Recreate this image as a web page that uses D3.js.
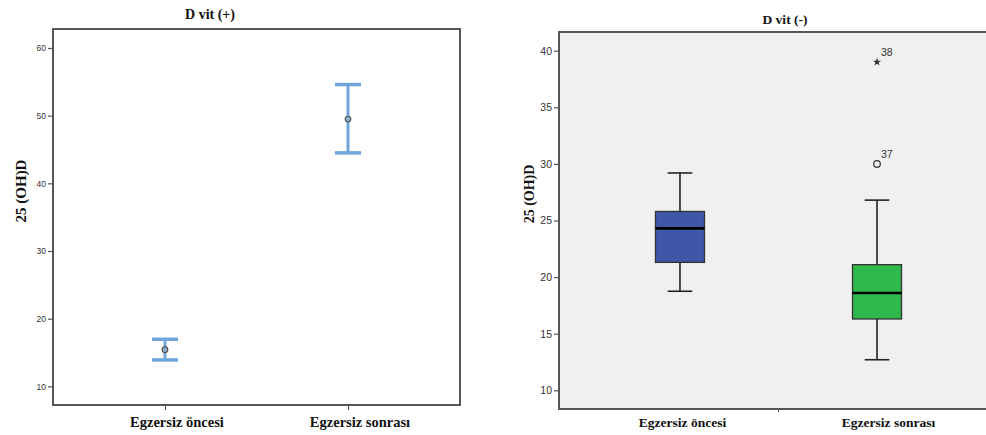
<!DOCTYPE html>
<html>
<head>
<meta charset="utf-8">
<script src="https://cdn.jsdelivr.net/npm/d3@7"></script>
<style>
  html, body { margin: 0; padding: 0; background: #ffffff; }
  svg { display: block; }
</style>
</head>
<body>
<svg id="chart" width="986" height="435"></svg>
<script>
// ---------- DATA ----------
const categories = ["Egzersiz öncesi", "Egzersiz sonrası"];

// Left panel: D vit (+) — mean with error bars
const plusTitle = "D vit (+)";
const plusMean = [15.4, 49.5];
const plusLow  = [13.9, 44.5];
const plusHigh = [16.95, 54.6];
const plusTicks = [10, 20, 30, 40, 50, 60];

// Right panel: D vit (-) — box plots
const minusTitle = "D vit (-)";
const whiskerLow  = [18.75, 12.7];
const q1          = [21.3, 16.3];
const median      = [24.3, 18.6];
const q3          = [25.8, 21.1];
const whiskerHigh = [29.2, 26.8];
const outlierCat   = [1, 1];
const outlierValue = [30.0, 39.0];
const outlierLabel = ["37", "38"];
const outlierType  = ["circle", "star"];
const minusTicks = [10, 15, 20, 25, 30, 35, 40];

const yLabel = "25 (OH)D";

// ---------- STYLE ----------
const serif = "'Liberation Serif', 'Times New Roman', serif";
const sans = "'Liberation Sans', Arial, sans-serif";
const boxColors = ["#3e57a9", "#2fb84b"];

const svg = d3.select("#chart");

// ================= LEFT PANEL =================
{
  const L = 53, R = 460, T = 29, B = 405;
  const x = d3.scalePoint().domain(categories).range([L, R]).padding(0.612);
  const y = d3.scaleLinear().domain([10, 60]).range([386.3, 48]);
  const g = svg.append("g");

  g.append("rect").attr("x", L).attr("y", T).attr("width", R - L).attr("height", B - T)
    .attr("fill", "#ffffff").attr("stroke", "#555").attr("stroke-width", 2);

  const yAxis = d3.axisLeft(y).tickValues(plusTicks).tickSize(5).tickPadding(2);
  const ya = g.append("g").attr("transform", `translate(${L},0)`).call(yAxis);
  ya.select(".domain").remove();
  ya.selectAll("line").attr("stroke", "#555").attr("stroke-width", 1.2);
  ya.selectAll("text").attr("font-family", sans).attr("font-size", 8.5).attr("fill", "#333");

  const xAxis = d3.axisBottom(x).tickSize(5).tickFormat("");
  const xa = g.append("g").attr("transform", `translate(0,${B})`).call(xAxis);
  xa.select(".domain").remove();
  xa.selectAll("line").attr("stroke", "#555").attr("stroke-width", 1.2);

  g.selectAll(".xl").data(categories).join("text")
    .attr("x", d => x(d) + 12).attr("y", 427).attr("text-anchor", "middle")
    .attr("font-family", serif).attr("font-weight", "bold").attr("font-size", 14.5)
    .attr("fill", "#111").text(d => d);

  g.append("text").attr("x", 210).attr("y", 19).attr("text-anchor", "middle")
    .attr("font-family", serif).attr("font-weight", "bold").attr("font-size", 14)
    .attr("fill", "#111").text(plusTitle);

  g.append("text").attr("transform", "translate(26,191) rotate(-90)")
    .attr("text-anchor", "middle")
    .attr("font-family", serif).attr("font-weight", "bold").attr("font-size", 15)
    .attr("fill", "#111").text(yLabel);

  const eb = g.selectAll(".eb").data(categories).join("g");
  const blue = "#6fa5d8";
  eb.append("line").attr("x1", d => x(d)).attr("x2", d => x(d))
    .attr("y1", (d, i) => y(plusHigh[i])).attr("y2", (d, i) => y(plusLow[i]))
    .attr("stroke", blue).attr("stroke-width", 3);
  eb.append("line").attr("x1", d => x(d) - 13).attr("x2", d => x(d) + 13)
    .attr("y1", (d, i) => y(plusHigh[i])).attr("y2", (d, i) => y(plusHigh[i]))
    .attr("stroke", blue).attr("stroke-width", 3.5);
  eb.append("line").attr("x1", d => x(d) - 13).attr("x2", d => x(d) + 13)
    .attr("y1", (d, i) => y(plusLow[i])).attr("y2", (d, i) => y(plusLow[i]))
    .attr("stroke", blue).attr("stroke-width", 3.5);
  eb.append("circle").attr("cx", d => x(d)).attr("cy", (d, i) => y(plusMean[i]))
    .attr("r", 2.8).attr("fill", "#8fb0cf").attr("stroke", "#555").attr("stroke-width", 1.2);
}

// ================= RIGHT PANEL =================
{
  const L = 559, R = 998, T = 32, B = 409;
  const x = d3.scalePoint().domain(categories).range([L, R]).padding(0.614);
  const y = d3.scaleLinear().domain([10, 40]).range([390.3, 50.7]);
  const g = svg.append("g");

  g.append("rect").attr("x", L).attr("y", T).attr("width", R - L).attr("height", B - T)
    .attr("fill", "#f0f0f0");
  g.append("path").attr("d", `M${R},${T}H${L}V${B}H${R}`)
    .attr("fill", "none").attr("stroke", "#555").attr("stroke-width", 2);

  const yAxis = d3.axisLeft(y).tickValues(minusTicks).tickSize(5).tickPadding(2);
  const ya = g.append("g").attr("transform", `translate(${L},0)`).call(yAxis);
  ya.select(".domain").remove();
  ya.selectAll("line").attr("stroke", "#555").attr("stroke-width", 1.2);
  ya.selectAll("text").attr("font-family", sans).attr("font-size", 10.5).attr("fill", "#333");

  // small divider tick between categories
  const mid = (x(categories[0]) + x(categories[1])) / 2;
  g.append("line").attr("x1", mid).attr("x2", mid).attr("y1", B).attr("y2", B + 3)
    .attr("stroke", "#555").attr("stroke-width", 1);

  const labelShift = [2.5, 11.5];
  g.selectAll(".xl").data(categories).join("text")
    .attr("x", (d, i) => x(d) + labelShift[i]).attr("y", 427).attr("text-anchor", "middle")
    .attr("font-family", serif).attr("font-weight", "bold").attr("font-size", 13.5)
    .attr("fill", "#111").text(d => d);

  g.append("text").attr("x", 785).attr("y", 24).attr("text-anchor", "middle")
    .attr("font-family", serif).attr("font-weight", "bold").attr("font-size", 13.5)
    .attr("fill", "#111").text(minusTitle);

  g.append("text").attr("transform", "translate(534,194) rotate(-90)")
    .attr("text-anchor", "middle")
    .attr("font-family", serif).attr("font-weight", "bold").attr("font-size", 14)
    .attr("fill", "#111").text(yLabel);

  const half = 24.5, capHalf = 12.3;
  const bx = g.selectAll(".bx").data(categories).join("g");
  // whiskers
  bx.append("line").attr("x1", d => x(d)).attr("x2", d => x(d))
    .attr("y1", (d, i) => y(whiskerHigh[i])).attr("y2", (d, i) => y(q3[i]))
    .attr("stroke", "#222").attr("stroke-width", 1.6);
  bx.append("line").attr("x1", d => x(d)).attr("x2", d => x(d))
    .attr("y1", (d, i) => y(q1[i])).attr("y2", (d, i) => y(whiskerLow[i]))
    .attr("stroke", "#222").attr("stroke-width", 1.6);
  bx.append("line").attr("x1", d => x(d) - capHalf).attr("x2", d => x(d) + capHalf)
    .attr("y1", (d, i) => y(whiskerHigh[i])).attr("y2", (d, i) => y(whiskerHigh[i]))
    .attr("stroke", "#222").attr("stroke-width", 1.6);
  bx.append("line").attr("x1", d => x(d) - capHalf).attr("x2", d => x(d) + capHalf)
    .attr("y1", (d, i) => y(whiskerLow[i])).attr("y2", (d, i) => y(whiskerLow[i]))
    .attr("stroke", "#222").attr("stroke-width", 1.6);
  // boxes
  bx.append("rect").attr("x", d => x(d) - half).attr("width", half * 2)
    .attr("y", (d, i) => y(q3[i])).attr("height", (d, i) => y(q1[i]) - y(q3[i]))
    .attr("fill", (d, i) => boxColors[i]).attr("stroke", "#333").attr("stroke-width", 1.3);
  bx.append("line").attr("x1", d => x(d) - half).attr("x2", d => x(d) + half)
    .attr("y1", (d, i) => y(median[i])).attr("y2", (d, i) => y(median[i]))
    .attr("stroke", "#000").attr("stroke-width", 2.6);

  // outliers
  outlierValue.forEach((v, i) => {
    const cx = x(categories[outlierCat[i]]);
    const cy = y(v);
    if (outlierType[i] === "circle") {
      g.append("circle").attr("cx", cx).attr("cy", cy).attr("r", 3.3)
        .attr("fill", "none").attr("stroke", "#333").attr("stroke-width", 1.2);
    } else {
      g.append("path").attr("transform", `translate(${cx},${cy})`)
        .attr("d", d3.symbol().type(d3.symbolStar).size(22)())
        .attr("fill", "#333");
    }
    g.append("text").attr("x", cx + 4).attr("y", cy - 6)
      .attr("font-family", sans).attr("font-size", 10.5).attr("fill", "#333")
      .text(outlierLabel[i]);
  });
}
</script>
</body>
</html>
